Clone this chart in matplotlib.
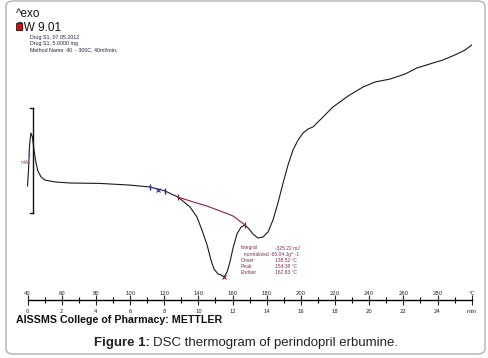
import matplotlib
matplotlib.use("Agg")
import matplotlib.pyplot as plt
import matplotlib.transforms as mtransforms
from matplotlib.patches import FancyBboxPatch, Rectangle
import numpy as np

# ---------------- data ----------------
temp_c = [40.0, 40.6, 41.2, 42.0, 42.9, 43.8, 45.0, 46.1, 47.9, 50.2, 56.1, 64.9,
          82.4, 100.0, 111.7, 120.5, 128.1, 135.1, 139.2, 142.1, 145.1, 147.4,
          149.2, 151.5, 153.3, 155.0, 156.8, 158.5, 160.3, 162.6, 165.0, 167.3,
          169.7, 172.0, 174.9, 177.9, 180.8, 183.7, 186.6, 189.6, 192.5, 195.4,
          198.4, 201.3, 204.2, 207.1, 211.2, 218.8, 227.6, 236.4, 243.4, 252.2,
          261.0, 268.0, 275.6, 283.2, 290.3, 296.1, 300.0]
heat_mw = [-0.14, 0.62, 1.81, 2.38, 2.19, 1.57, 0.95, 0.57, 0.29, 0.14, 0.05, 0.0,
           -0.02, -0.10, -0.19, -0.38, -0.67, -1.14, -1.62, -2.24, -2.95, -3.67,
           -4.10, -4.33, -4.38, -4.48, -4.24, -3.76, -3.10, -2.43, -2.10, -2.00,
           -2.19, -2.43, -2.62, -2.57, -2.33, -1.76, -0.95, 0.0, 0.86, 1.57,
           2.05, 2.38, 2.57, 2.67, 3.00, 3.62, 4.14, 4.57, 4.81, 4.95,
           5.19, 5.48, 5.67, 5.86, 6.10, 6.33, 6.57]

baseline_t = [128.1, 136.9, 145.1, 152.7, 160.3, 167.3]
baseline_mw = [-0.67, -0.90, -1.10, -1.33, -1.57, -2.00]

norm_t = [111.7, 116.4, 120.5]       # blue normalisation markers
norm_mw = [-0.19, -0.33, -0.38]
peak_t, peak_mw = 155.0, -4.48

temp_ticks = list(range(40, 300, 20))
time_ticks = [(t - 40) // 10 for t in temp_ticks]
minor_ticks = list(range(50, 300, 20))

scale_t = 43.2
scale_lo, scale_hi = -1.45, 3.55

result_labels = ["Integral", "  normalized", "Onset", "Peak", "Endset"]
result_values = ["-325.22 mJ", "-65.04 Jg^ -1", "138.52 °C", "154.38 °C", "162.83 °C"]

# ---------------- figure ----------------
W, H = 489, 358
fig = plt.figure(figsize=(W / 100, H / 100), dpi=100)
fig.patch.set_facecolor("white")

def fx(px):
    return px / W

def fy(py):
    return 1 - py / H

# outer rounded frame
frame = FancyBboxPatch((fx(6), fy(354)), fx(485) - fx(6), fy(1) - fy(354),
                       boxstyle="round,pad=0,rounding_size=0.015",
                       transform=fig.transFigure, fill=False,
                       edgecolor="#b0b0b0", linewidth=1.0)
fig.patches.append(frame)

x0, x1 = 27.5, 471.7
y_top, y_bot = 30, 300
ax = fig.add_axes([fx(x0), fy(y_bot), fx(x1) - fx(x0), fy(y_top) - fy(y_bot)])
ax.set_facecolor("none")
ax.set_xlim(40, 300)
ax.set_ylim((183 - y_bot) / 21, (183 - y_top) / 21)
for s in ["top", "right", "left"]:
    ax.spines[s].set_visible(False)
ax.spines["bottom"].set_linewidth(1.0)
ax.set_yticks([])
ax.set_xticks(temp_ticks + [300])
ax.set_xticklabels([str(v) for v in time_ticks] + ["min"])
ax.set_xticks(minor_ticks, minor=True)
ax.tick_params(axis="x", which="major", direction="inout", length=7, width=0.8,
               labelsize=3.8, pad=3, colors="#222222")
ax.tick_params(axis="x", which="minor", direction="inout", length=5, width=0.8)
trans_top = mtransforms.offset_copy(ax.get_xaxis_transform(), fig=fig, x=0, y=4, units="dots")
for t in temp_ticks:
    ax.text(t, 0, str(t), transform=trans_top, ha="center", va="bottom",
            fontsize=3.8, color="#222222")
ax.text(300, 0, "°C", transform=trans_top, ha="center", va="bottom", fontsize=3.8, color="#222222")

# curve
ax.plot(temp_c, heat_mw, color="#1a1a1a", linewidth=0.8, solid_joinstyle="round")
ax.plot(baseline_t, baseline_mw, color="#8b1d4b", linewidth=0.8)
ax.plot([baseline_t[0], baseline_t[-1]], [baseline_mw[0], baseline_mw[-1]],
        linestyle="none", marker="|", markersize=5, color="#8b1d4b", markeredgewidth=0.9)
ax.plot([peak_t], [peak_mw], linestyle="none", marker="x", markersize=3,
        color="#8b1d4b", markeredgewidth=0.8)
ax.plot([norm_t[0], norm_t[2]], [norm_mw[0], norm_mw[2]], linestyle="none",
        marker="|", markersize=5, color="#1a2a9a", markeredgewidth=1.0)
ax.plot([norm_t[1]], [norm_mw[1]], linestyle="none", marker="x", markersize=3,
        color="#1a2a9a", markeredgewidth=0.8)

# scale bar
ax.plot([scale_t, scale_t], [scale_lo, scale_hi], color="#111111", linewidth=1.0)
ax.plot([scale_t - 1.8, scale_t], [scale_lo, scale_lo], color="#111111", linewidth=1.0)
ax.plot([scale_t - 1.8, scale_t], [scale_hi, scale_hi], color="#111111", linewidth=1.0)

# texts
fig.text(fx(16), fy(14), "^exo", fontsize=8.5, family="Liberation Sans",
         va="center", ha="left", color="#111111")
fig.text(fx(16), fy(28), "SW 9.01", fontsize=8.5, family="Liberation Sans",
         va="center", ha="left", color="#111111")
icon = Rectangle((fx(16), fy(30)), fx(6), fy(0) - fy(7.5),
                 transform=fig.transFigure, facecolor="#d01010",
                 edgecolor="#401010", linewidth=0.6, zorder=10)
fig.add_artist(icon)
for i, s in enumerate(["Drug S1, 07.05.2012", "Drug S1, 5.0000 mg",
                       "Method Name: 40  - 300C, 40ml/min,"]):
    fig.text(fx(30), fy(37 + 6.5 * i), s, fontsize=3.8, va="center", ha="left",
             family="Liberation Sans", color="#202040")

fig.text(fx(29), fy(155), "5", fontsize=3.3, va="center", ha="center", color="#6060b0")
fig.text(fx(25), fy(162), "mW", fontsize=3.3, va="center", ha="center", color="#9a4a6a")

for i, (lab, val) in enumerate(zip(result_labels, result_values)):
    yy = fy(248 + 6.2 * i)
    fig.text(fx(241), yy, lab, fontsize=3.6, va="center", ha="left", color="#7b2f5a",
             family="Liberation Sans")
    fig.text(fx(275 if i != 1 else 270), yy, val, fontsize=3.6, va="center", ha="left",
             color="#7b2f5a", family="Liberation Sans")

fig.text(fx(16), fy(320), "AISSMS College of Pharmacy: METTLER", fontsize=7.7,
         fontweight="bold", family="Liberation Sans", va="center", ha="left", color="#111111")

fig.text(fx(94), fy(343), "Figure 1:", fontsize=9.5, fontweight="bold",
         family="Liberation Sans", va="center", ha="left", color="#222222")
fig.text(fx(153), fy(343), "DSC thermogram of perindopril erbumine.", fontsize=9.5,
         family="Liberation Sans", va="center", ha="left", color="#222222")

fig.savefig("out.png", dpi=100)
